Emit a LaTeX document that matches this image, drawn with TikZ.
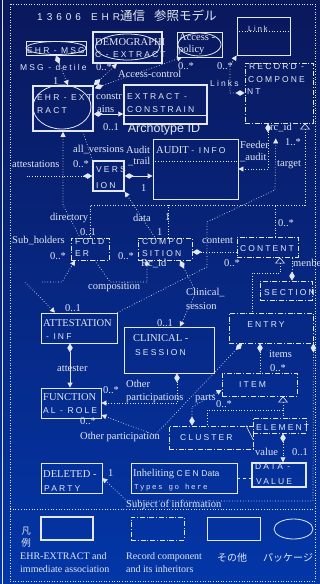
\documentclass[tikz,border=0pt]{standalone}
\usepackage{fontspec}
\setmainfont{Liberation Serif}
\newfontfamily\capsfont[LetterSpace=25]{Liberation Sans}
\newfontfamily\widecaps[LetterSpace=40]{Liberation Sans}
\newfontfamily\plainsans{Liberation Sans}
\newfontfamily\monowide[LetterSpace=20]{Liberation Mono}
\newfontfamily\jpfont{Noto Sans CJK JP}
\usetikzlibrary{arrows.meta,shapes.geometric,calc}

\definecolor{bgtop}{RGB}{10,24,92}
\definecolor{bgbot}{RGB}{3,54,168}
\definecolor{ink}{RGB}{226,231,242}

\tikzset{
  box/.style={draw=ink, line width=0.8pt, inner sep=0pt},
  mainbox/.style={draw=ink, line width=1.5pt, inner sep=0pt},
  recbox/.style={draw=ink, line width=0.9pt, dash pattern=on 5pt off 1.8pt on 1pt off 1.8pt, inner sep=0pt},
  pkg/.style={draw=ink, ellipse, line width=0.8pt, inner sep=0pt},
  lbl/.style={text=ink, font=\fontsize{10.5}{11}\selectfont, inner sep=0pt, anchor=west},
  capt/.style={text=ink, font=\capsfont\fontsize{8.5}{10}\selectfont, inner sep=0pt, anchor=west},
  assoc/.style={draw=ink, line width=0.7pt, dotted},
  solidassoc/.style={draw=ink, line width=0.9pt},
  agg/.tip={Diamond[fill=ink, length=9pt, width=5.5pt]},
  hd/.tip={Triangle[fill=ink, length=5pt, width=5pt]},
  gen/.tip={Triangle[open, length=6pt, width=10pt, line width=0.6pt]}
}

\begin{document}
\begin{tikzpicture}[x=1pt,y=-1pt]
% background and frame
\fill[top color=bgtop, bottom color=bgbot] (0,0) rectangle (320,584);
\useasboundingbox (0,0) rectangle (320,584);
\draw[ink, line width=0.8pt] (2.5,0) -- (2.5,584);
\draw[ink, dotted, line width=0.6pt] (10,4) rectangle (315,581);

% title
\node[text=ink, anchor=west, inner sep=0pt] (title) at (37,16)
  {\widecaps\fontsize{10}{11}\selectfont 13606\hspace{10pt}EHR\jpfont\fontsize{12.5}{13}\selectfont 通信\hspace{9pt}参照モデル};

% ---------- boxes ----------
\node[box, minimum width=60, minimum height=14] (ehrmsg) at (56,48) {};
\node[pkg, minimum width=60, minimum height=13] (ehrmsgpkg) at (56,48) {};
\node[mainbox, minimum width=69, minimum height=31] (demog) at (127.5,47.5) {};
\node[pkg, minimum width=64, minimum height=26] (demogpkg) at (127.5,47) {};
\node[box, minimum width=45, minimum height=25] (access) at (199.5,44.5) {};
\node[pkg, minimum width=43, minimum height=23] (accesspkg) at (199.5,44.5) {};
\node[box, minimum width=53, minimum height=38] (link) at (263.5,36) {};
\node[recbox, minimum width=68, minimum height=60] (reccomp) at (279,93) {};
\node[mainbox, minimum width=60, minimum height=45] (ehrext) at (63,108.5) {};
\node[pkg, minimum width=58, minimum height=44] (ehrextpkg) at (62,107) {};
\node[mainbox, minimum width=83, minimum height=39] (extcons) at (165.5,104.5) {};
\node[box, minimum width=85, minimum height=60] (audit) at (195.5,169) {};
\node[mainbox, minimum width=31, minimum height=30] (version) at (108.5,176) {};
\node[recbox, minimum width=38, minimum height=22] (folder) at (90,249) {};
\node[recbox, minimum width=54, minimum height=22] (compo) at (165,249) {};
\node[recbox, minimum width=61, minimum height=20] (content) at (267.5,247) {};
\node[recbox, minimum width=52, minimum height=19] (section) at (286,290.5) {};
\node[box, minimum width=76, minimum height=30] (attest) at (79,328) {};
\node[box, minimum width=90, minimum height=46] (clinical) at (169,350) {};
\node[recbox, minimum width=84, minimum height=30] (entry) at (271,328) {};
\node[recbox, minimum width=75, minimum height=23] (item) at (259.5,384.5) {};
\node[box, minimum width=60, minimum height=30] (funcrole) at (71,403) {};
\node[recbox, minimum width=84, minimum height=23] (cluster) at (211,437.5) {};
\node[recbox, minimum width=53, minimum height=15] (element) at (279.5,425.5) {};
\node[mainbox, minimum width=54, minimum height=24] (datavalue) at (279,475) {};
\node[box, minimum width=61, minimum height=30] (delparty) at (71.5,478) {};
\node[box, minimum width=106, minimum height=30] (cen) at (184,478) {};

% compartment lines
\draw[assoc] (link.west |- 0,31) -- (link.east |- 0,31);
\draw[ink, line width=0.5pt] (extcons.west |- 0,115) -- (extcons.east |- 0,115);
\draw[assoc] (audit.west |- 0,161) -- (audit.east |- 0,161);
\draw[ink, line width=0.6pt] (cluster.north east -| 246,0) -- (cluster.east |- 0,440);

% ---------- captions ----------
\node[capt] (msgcap) at (27,51) {EHR - MSG};
\node[lbl] (demogcapa) at (95,42) {DEMOGRAPHI};
\node[capt] (demogcapb) at (95,55) {C - EXTRACT};
\node[lbl] (acccapa) at (179,37) {Access -};
\node[lbl] (acccapb) at (178,50) {policy};
\node[capt, font=\capsfont\fontsize{7.5}{9}\selectfont] (linkcap) at (248,29) {Link};
\node[capt] (rcapa) at (249,67) {RECORD -};
\node[capt] (rcapb) at (248,80) {COMPONE};
\node[capt] (rcapc) at (247,92) {NT};
\node[capt] (extcapa) at (37,98) {EHR - EXT};
\node[capt] (extcapb) at (37,111) {RACT};
\node[capt] (conscapa) at (127,97) {EXTRACT -};
\node[capt] (conscapb) at (127,110) {CONSTRAIN};
\node[text=ink, font=\plainsans\fontsize{12.5}{13}\selectfont, inner sep=0pt] (archetype) at (164,129) {Archotype ID};
\node[lbl] (auditcap) at (156,150) {AUDIT {\capsfont\fontsize{8.5}{10}\selectfont - INFO}};
\node[capt] (vercapa) at (96,170) {VERS};
\node[capt] (vercapb) at (96,186) {ION};
\node[capt] (foldcapa) at (75,242) {FOLD};
\node[capt] (foldcapb) at (75,254) {ER};
\node[capt] (compcapa) at (142,242) {COMPO};
\node[capt] (compcapb) at (142,254) {SITION};
\node[capt, anchor=center] (contcap) at (267,249) {CONTENT};
\node[capt] (seccap) at (264,293) {SECTION};
\node[lbl] (attcapa) at (43,323) {ATTESTATION};
\node[capt] (attcapb) at (46,337) {- INF};
\node[lbl] (clincapa) at (133,338) {CLINICAL -};
\node[capt] (clincapb) at (135,353) {SESSION};
\node[capt, anchor=center] (entcap) at (266,325) {ENTRY};
\node[capt] (itemcap) at (239,385) {ITEM};
\node[lbl] (funccapa) at (43,397) {FUNCTION};
\node[capt] (funccapb) at (43,411) {AL - ROLE};
\node[capt] (clustcap) at (180,438) {CLUSTER};
\node[capt] (elemcap) at (256,428) {ELEMENT};
\node[capt] (dvcapa) at (255,467) {DATA -};
\node[capt] (dvcapb) at (256,482) {VALUE};
\node[lbl] (delcapa) at (43,474) {DELETED -};
\node[capt] (delcapb) at (44,489) {PARTY};
\node[lbl] (cencapa) at (133,474) {Inheliting {\capsfont\fontsize{8.5}{10}\selectfont CEN} {\plainsans\fontsize{8.5}{10}\selectfont Data}};
\node[text=ink, font=\monowide\fontsize{7.5}{10}\selectfont, inner sep=0pt, anchor=west] (cencapb) at (134,488) {Types go here};

% ---------- connectors ----------
\draw[assoc, {agg}-{hd}] (ehrmsg.south) -- (ehrext.north -| 68,0);
\draw[assoc, {hd}-{agg}] (demog.south -| 117,0) -- (ehrext.north east);
\draw[assoc, {hd}-{agg}] (access.south -| 182,0) -- ($(ehrext.north east)+(1,3)$);
\draw[assoc, {agg}-{hd}] (reccomp.west) -| (230,66) -- (link.south west);
\draw[solidassoc, {agg}-{hd}] (ehrext.east |- 0,114) -- (extcons.west |- 0,114);
\draw[assoc, {agg}-{hd}] (reccomp.south -| 268,0) |- (audit.east |- 0,169);
\draw[assoc, -{hd}, shorten >=15pt] (attest.north east) -- (207,267) -- (207,222) -- (275,190) -- (reccomp.south -| 276,0);
% generalisation of record components
\draw[assoc, {gen}-] (reccomp.south -| 305,0) |- (folder.north |- 0,205) -- (folder.north);
\draw[assoc] (compo.north -| 168,0) -- (168,205);
\draw[assoc] (content.north -| 275,0) -- (275,205);
% version and its associations
\draw[assoc] (version.north west) -- (ehrext.south -| 83,0);
\draw[assoc, {hd}-] (ehrext.south -| 63,0) -- (63,205) -- (folder.north -| 80,0);
\coordinate (attleft) at (25,176);
\coordinate (attlow) at (25,282);
\draw[assoc, {agg}-] (version.west) -- (attleft);
\draw[assoc, -{hd}] (attlow) -- (attest.north -| 55,0);
\draw[solidassoc, {agg}-{hd}] (version.east) -- (audit.west |- version.east);
\draw[assoc, {hd}-] (version.south east) -- (compo.north -| 155,0);
% folders and compositions
\coordinate (subend) at (42,282);
\draw[assoc, -{hd}] (subend) -- (62,282) -- (folder.south -| 75,0);
\draw[assoc, -{hd}] (folder.south -| 95,0) -- (110,282) -- (147,282) -- (compo.south -| 147,0);
\draw[assoc, {agg}-] (compo.east |- 0,252) -- (content.west |- 0,252);
\draw[assoc, {agg}-{hd}] (compo.south -| 180,0) -- (196,292) -- (clinical.north -| 180,0);
% content tree
\draw[assoc, {gen}-] (content.south -| 280,0) |- (252,273) -- (entry.north -| 252,0);
\draw[assoc, {agg}-] (section.north -| 292,0) -- (content.south -| 292,0);
% participations
\draw[solidassoc, {agg}-{hd}] (attest.south -| 70,0) -- (funcrole.north -| 70,0);
\draw[assoc, {agg}-{hd}] (clinical.south -| 177,0) |- (funcrole.east |- 0,403);
\draw[assoc, {agg}-{hd}] (entry.south west -| 242,0) -- (155,435) -- (funcrole.east |- 0,415);
% entry items
\draw[assoc, {agg}-] (entry.south -| 260,0) -- (item.north -| 260,0);
\draw[assoc, {agg}-{hd}] (cluster.north -| 192,0) -- (192,407) -- (item.west |- 0,390);
\draw[assoc, {gen}-] (item.south -| 283,0) -- (283,410) -| (cluster.north -| 207,0);
\draw[assoc] (283,410) -- (element.north -| 283,0);
\draw[assoc, {agg}-{hd}] (element.south -| 283,0) -- (datavalue.north -| 283,0);
\draw[assoc, {agg}-{hd}] (entry.south east) -- (313,501) -- (127,501) -- (delparty.east);
\draw[ink, dashed, line width=0.7pt] (cen.east) -- (datavalue.west |- cen.east);

% ---------- association labels ----------
\node[capt] (msgdet) at (20,67) {MSG - detile};
\node[lbl] (m1) at (53,81) {1};
\node[lbl] (m2) at (96,67) {0..*};
\node[lbl] (m3) at (178,66) {0..*};
\node[lbl] (accctl) at (118,74) {Access-control};
\node[lbl] (m4) at (217,66) {0..*};
\node[capt] (links) at (210,83) {Links};
\node[lbl] (constra) at (96,97) {constr};
\node[lbl] (constrb) at (97,109) {ains};
\node[lbl] (m5) at (103,127) {0..1};
\node[lbl] (rcid) at (270,128) {rc\_id};
\node[lbl] (feedera) at (240,145) {Feeder};
\node[lbl] (feederb) at (240,158) {\_audit};
\node[lbl] (m6) at (285,142) {1..*};
\node[lbl] (target) at (277,165) {target};
\node[lbl] (allver) at (73,150) {all\_versions};
\node[lbl] (m7) at (73,164) {0..*};
\node[lbl] (audita) at (126,150) {Audit};
\node[lbl] (auditb) at (128,162) {\_trail};
\node[lbl] (attests) at (12,164) {attestations};
\node[lbl] (m8) at (141,188) {1};
\node[lbl] (directory) at (50,218) {directory};
\node[lbl] (m9) at (80,232) {0..1};
\node[lbl] (data) at (133,218) {data};
\node[lbl] (m10) at (165,217) {1};
\node[lbl] (m11) at (157,232) {1};
\node[lbl] (subh) at (12,241) {Sub\_holders};
\node[lbl] (m12) at (50,256) {0..*};
\node[lbl] (m13) at (118,256) {0..*};
\node[lbl] (rcid2) at (141,264) {Rc\_id};
\node[lbl] (compl) at (88,287) {composition};
\node[lbl] (contl) at (202,241) {content};
\node[lbl] (m14) at (278,223) {0..*};
\node[lbl] (m15) at (224,263) {0..*};
\node[lbl] (menbe) at (293,263) {menbe};
\node[lbl] (clina) at (186,293) {Clinical\_};
\node[lbl] (clinb) at (186,306) {session};
\node[lbl] (m16) at (157,323) {0..1};
\node[lbl] (m17) at (65,308) {0..1};
\node[lbl] (attester) at (57,369) {attester};
\node[lbl] (items) at (269,354) {items};
\node[lbl] (m18) at (270,368) {0..*};
\node[lbl] (m19) at (103,390) {0..*};
\node[lbl] (otha) at (126,384) {Other};
\node[lbl] (othb) at (126,398) {participations};
\node[lbl] (parts) at (195,399) {parts};
\node[lbl] (m20) at (216,404) {0..*};
\node[lbl] (m21) at (80,421) {0..*};
\node[lbl] (othc) at (80,437) {Other participation};
\node[lbl] (value) at (255,452) {value};
\node[lbl] (m22) at (292,452) {0..1};
\node[lbl] (m23) at (108,473) {1};
\node[lbl] (subj) at (126,505) {Subject of information};

% ---------- legend ----------
\draw[assoc] (10,509) -- (313,509);
\node[text=ink, font=\jpfont\fontsize{9.5}{12}\selectfont, align=center, inner sep=0pt] (legtitle) at (26,537) {凡\\例};
\node[mainbox, minimum width=52, minimum height=23] (legmain) at (67,528.5) {};
\node[recbox, minimum width=53, minimum height=23] (legrec) at (157.5,528.5) {};
\node[box, minimum width=53, minimum height=23] (legother) at (233.5,528.5) {};
\node[pkg, minimum width=39, minimum height=20] (legpkg) at (293.5,529) {};
\node[lbl, font=\fontsize{10}{13}\selectfont, align=left, anchor=north west] (legmaintxt) at (20,552) {EHR-EXTRACT and\\immediate association};
\node[lbl, font=\fontsize{10}{13}\selectfont, align=left, anchor=north west] (legrectxt) at (126,552) {Record component\\and its inheritors};
\node[lbl, font=\jpfont\fontsize{10}{12}\selectfont] (legothertxt) at (217,558) {その他};
\node[lbl, font=\jpfont\fontsize{10}{12}\selectfont] (legpkgtxt) at (263,558) {パッケージ};
\end{tikzpicture}
\end{document}
